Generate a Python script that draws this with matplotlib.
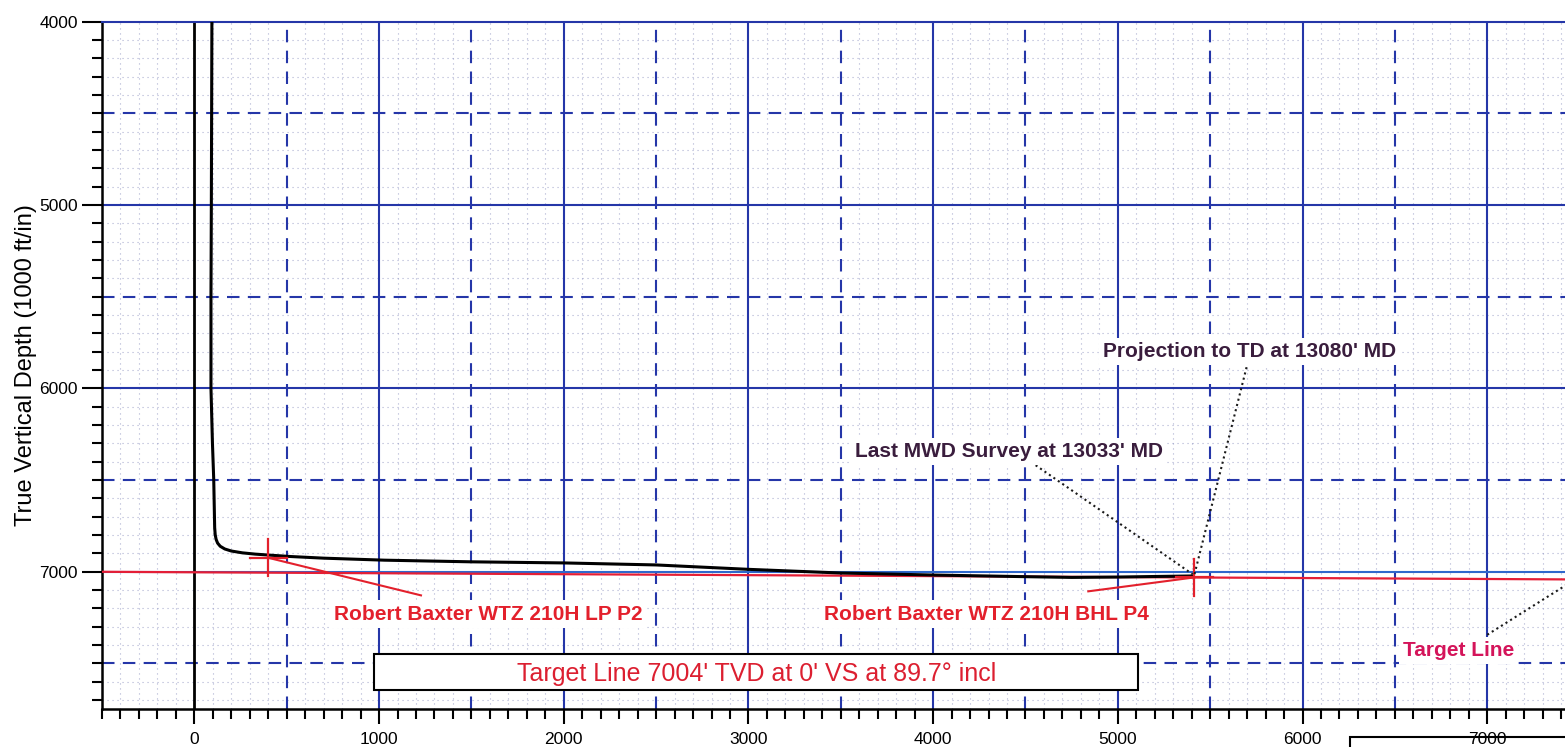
import matplotlib
matplotlib.use('Agg')
import matplotlib.pyplot as plt
from matplotlib.ticker import MultipleLocator
from matplotlib.patches import Rectangle
import numpy as np

plt.rcParams['font.family'] = ['Liberation Sans', 'DejaVu Sans']

# ---------------- data ----------------
path_vs = [98, 95, 92, 90, 90, 98, 105, 110, 113, 118, 126, 140, 165, 200, 260, 330, 400,
           520, 700, 1030, 1500, 2000, 2500, 2750, 3000, 3500, 4000, 4500, 4750, 5000, 5200, 5415]
path_tvd = [3900, 4000, 5000, 5500, 6000, 6300, 6500, 6760, 6800, 6825, 6845, 6862, 6877, 6888,
            6898, 6905, 6910, 6918, 6927, 6938, 6947, 6953, 6964, 6976, 6988, 7008, 7019, 7028,
            7032, 7030, 7027, 7024]

target_vs = [-500, 7500]
target_tvd = [7001.4, 7043.3]

lp_vs, lp_tvd = 400, 6925
bhl_vs, bhl_tvd = 5415, 7032
survey_end_vs, survey_end_tvd = 5405, 7015

x_ticks = [0, 1000, 2000, 3000, 4000, 5000, 6000, 7000]
y_ticks = [4000, 5000, 6000, 7000]

lp_label = "Robert Baxter WTZ 210H LP P2"
bhl_label = "Robert Baxter WTZ 210H BHL P4"
mwd_label = "Last MWD Survey at 13033' MD"
proj_label = "Projection to TD at 13080' MD"
tl_label = "Target Line"
box_label = "Target Line 7004' TVD at 0' VS at 89.7° incl"
y_label = "True Vertical Depth (1000 ft/in)"

# ---------------- figure ----------------
W, H = 1565, 747
fig = plt.figure(figsize=(W / 100, H / 100), dpi=100)
fig.patch.set_facecolor('white')
ax = fig.add_axes([102 / W, 1 - 709 / H, (W - 102) / W, (709 - 21.7) / H])
x_min, x_max = -500, 7421
y_top, y_bot = 4000, 7750
ax.set_xlim(x_min, x_max)
ax.set_ylim(y_bot, y_top)

blue = '#2536a8'
dot_col = '#8388bb'

# minor dotted grid every 100
for v in np.arange(-400, 7500, 100):
    if v % 500:
        ax.axvline(v, color=dot_col, lw=0.8, ls=(0, (1, 3.5)), alpha=0.65, zorder=0.5)
for v in np.arange(4100, 7800, 100):
    if v % 500:
        ax.axhline(v, color=dot_col, lw=0.8, ls=(0, (1, 3.5)), alpha=0.65, zorder=0.5)
# dashed grid at 500
for v in np.arange(-500, 7600, 1000):
    if v != -500:
        ax.axvline(v, color=blue, lw=1.5, ls=(0, (6, 4)), zorder=1)
for v in [4500, 5500, 6500, 7500]:
    ax.axhline(v, color=blue, lw=1.5, ls=(0, (6, 4)), zorder=1)
# solid grid at 1000
for v in x_ticks:
    if v != 0:
        ax.axvline(v, color=blue, lw=1.5, zorder=1)
for v in [5000, 6000]:
    ax.axhline(v, color=blue, lw=1.5, zorder=1)
ax.axhline(7000, color='#2f68cc', lw=1.5, zorder=1)
ax.axvline(0, color='black', lw=2.0, zorder=2)

# target line
ax.plot(target_vs, target_tvd, color='#e41e36', lw=1.6, zorder=3)

# well path
ax.plot(path_vs, path_tvd, color='black', lw=2.2, zorder=4, solid_capstyle='butt')

red = '#e3202c'
# LP target cross + leader
arm = 100
ax.plot([lp_vs - arm, lp_vs + arm], [lp_tvd, lp_tvd], color=red, lw=1.6, zorder=5)
ax.plot([lp_vs, lp_vs], [lp_tvd - arm, lp_tvd + arm], color=red, lw=1.6, zorder=5)
ax.plot([lp_vs, 1227], [lp_tvd, 7130], color=red, lw=1.5, zorder=5)
# BHL target cross + leader
ax.plot([bhl_vs - arm, bhl_vs + arm], [bhl_tvd, bhl_tvd], color=red, lw=1.6, zorder=5)
ax.plot([bhl_vs, bhl_vs], [bhl_tvd - arm, bhl_tvd + arm], color=red, lw=1.6, zorder=5)
ax.plot([bhl_vs, 4840], [bhl_tvd, 7108], color=red, lw=1.5, zorder=5)

# dotted leaders
dk = '#1a1a1a'
ax.plot([4555, survey_end_vs], [6420, survey_end_tvd], color=dk, lw=1.5, ls=(0, (1, 1.6)), zorder=5)
ax.plot([5697, survey_end_vs + 10], [5885, survey_end_tvd], color=dk, lw=1.5, ls=(0, (1, 1.6)), zorder=5)
ax.plot([7000, 7480], [7345, 7040], color=dk, lw=1.5, ls=(0, (1, 1.6)), zorder=5)

wb = dict(facecolor='white', edgecolor='none', pad=3)
lab_fs = 15
ax.text(1590, 7262, lp_label, color=red, fontsize=lab_fs, fontweight='bold',
        ha='center', va='baseline', bbox=wb, zorder=6)
ax.text(4290, 7262, bhl_label, color=red, fontsize=lab_fs, fontweight='bold',
        ha='center', va='baseline', bbox=wb, zorder=6)
purple = '#3a1d3d'
ax.text(4412, 6375, mwd_label, color=purple, fontsize=lab_fs, fontweight='bold',
        ha='center', va='baseline', bbox=wb, zorder=6)
ax.text(5712, 5830, proj_label, color=purple, fontsize=lab_fs, fontweight='bold',
        ha='center', va='baseline', bbox=wb, zorder=6)
ax.text(6845, 7462, tl_label, color='#d4145a', fontsize=lab_fs, fontweight='bold',
        ha='center', va='baseline', bbox=dict(facecolor='white', edgecolor='none', pad=3), zorder=6)

# boxed target description
ax.add_patch(Rectangle((975, 7450), 5110 - 975, 7647 - 7450, facecolor='white',
                       edgecolor='black', lw=1.5, zorder=6))
ax.text(3045, 7598, box_label, color='#dc1f30', fontsize=18, ha='center', va='baseline', zorder=7)

# axes styling
ax.spines['right'].set_visible(False)
ax.spines['top'].set_color(blue)
ax.spines['top'].set_linewidth(1.5)
ax.spines['left'].set_linewidth(1.8)
ax.spines['bottom'].set_linewidth(1.8)
ax.set_xticks(x_ticks)
ax.set_yticks(y_ticks)
ax.xaxis.set_minor_locator(MultipleLocator(100))
ax.yaxis.set_minor_locator(MultipleLocator(100))
ax.tick_params(axis='y', which='major', length=14.4, width=1.5, labelsize=12.5, pad=3)
ax.tick_params(axis='y', which='minor', length=7.2, width=1.5)
ax.tick_params(axis='x', which='major', length=10.5, width=1.5, labelsize=12.5, pad=6)
ax.tick_params(axis='x', which='minor', length=7.5, width=1.5)
ax.set_ylabel(y_label, fontsize=17)
ax.yaxis.set_label_coords(-(102 - 37) / (W - 102), 0.5)

# partial box at bottom right of the sheet
fig.add_artist(Rectangle((1350 / W, -0.1), 0.3, 0.1 + 10 / H, transform=fig.transFigure,
                         fill=False, edgecolor='black', lw=1.5, clip_on=False))

fig.savefig('out.png', dpi=100)
